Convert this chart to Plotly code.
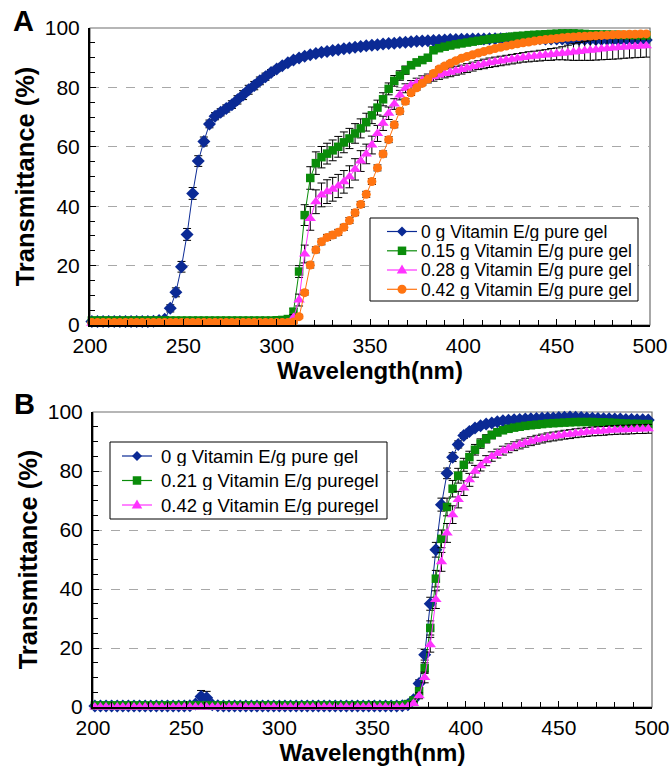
import plotly.graph_objects as go

# Wavelength grid (nm), one reading every 3 nm
wavelength = list(range(201, 499, 3))

# ---- Panel A: transmittance (%) ----
a_0g = [
    1.2, 1.2, 1.2, 1.2, 1.2, 1.2, 1.2, 1.2, 1.2, 1.2,
    1.2, 1.3, 1.5, 1.9, 5.6, 11.0, 19.6, 30.5, 44.3, 55.2,
    61.8, 67.7, 70.3, 71.6, 72.9, 74.2, 75.8, 77.4, 79.2, 80.6,
    82.2, 83.6, 85.0, 86.2, 87.3, 88.3, 89.2, 89.9, 90.5, 91.0,
    91.4, 91.8, 92.1, 92.4, 92.7, 93.0, 93.3, 93.5, 93.8, 94.0,
    94.2, 94.4, 94.6, 94.8, 94.9, 95.1, 95.2, 95.4, 95.5, 95.6,
    95.7, 95.8, 95.9, 96.0, 96.1, 96.1, 96.2, 96.2, 96.3, 96.3,
    96.3, 96.4, 96.4, 96.4, 96.4, 96.4, 96.4, 96.4, 96.4, 96.4,
    96.4, 96.3, 96.3, 96.3, 96.3, 96.2, 96.2, 96.2, 96.2, 96.2,
    96.1, 96.1, 96.1, 96.1, 96.0, 96.0, 96.0, 96.0, 96.0, 96.0,
]
a_0g_err = [
    0.3, 0.3, 0.3, 0.3, 0.3, 0.3, 0.3, 0.3, 0.3, 0.3,
    0.3, 0.3, 0.4, 0.8, 1.2, 1.5, 1.8, 2.0, 2.0, 1.8,
    1.5, 1.3, 1.2, 1.2, 1.2, 1.3, 1.4, 1.5, 1.5, 1.4,
    1.3, 1.2, 1.0, 0.9, 0.8, 0.7, 0.6, 0.6, 0.6, 0.6,
    0.6, 0.6, 0.6, 0.6, 0.6, 0.6, 0.6, 0.6, 0.6, 0.6,
    0.6, 0.6, 0.6, 0.6, 0.6, 0.6, 0.6, 0.6, 0.6, 0.6,
    0.6, 0.6, 0.6, 0.6, 0.6, 0.6, 0.6, 0.6, 0.6, 0.6,
    0.6, 0.6, 0.6, 0.6, 0.6, 0.6, 0.6, 0.6, 0.6, 0.6,
    0.7, 0.7, 0.7, 0.7, 0.7, 0.8, 0.8, 0.8, 0.8, 0.8,
    0.9, 0.9, 0.9, 1.0, 1.0, 1.0, 1.0, 1.0, 1.0, 1.0,
]
a_015g = [
    1.5, 1.5, 1.5, 1.5, 1.5, 1.5, 1.5, 1.5, 1.5, 1.5,
    1.5, 1.5, 1.5, 1.5, 1.5, 1.5, 1.5, 1.5, 1.5, 1.5,
    1.5, 1.5, 1.5, 1.5, 1.5, 1.5, 1.5, 1.5, 1.5, 1.5,
    1.5, 1.5, 1.5, 1.6, 1.7, 2.0, 4.5, 18.0, 37.0, 49.5,
    54.5, 56.5, 57.7, 58.8, 60.0, 61.5, 62.8, 64.5, 66.2, 68.3,
    70.6, 73.2, 76.0, 79.5, 82.2, 84.0, 85.8, 87.5, 88.4, 89.2,
    90.0, 92.5, 93.2, 93.7, 94.1, 94.5, 94.8, 95.1, 95.4, 95.7,
    96.0, 96.3, 96.5, 96.7, 96.9, 97.1, 97.3, 97.4, 97.6, 97.7,
    97.8, 97.9, 98.0, 98.1, 98.2, 98.2, 98.2, 98.1, 98.0, 97.9,
    97.9, 97.8, 97.8, 97.7, 97.7, 97.6, 97.6, 97.6, 97.5, 97.5,
]
a_015g_err = [
    0.3, 0.3, 0.3, 0.3, 0.3, 0.3, 0.3, 0.3, 0.3, 0.3,
    0.3, 0.3, 0.3, 0.3, 0.3, 0.3, 0.3, 0.3, 0.3, 0.3,
    0.3, 0.3, 0.3, 0.3, 0.3, 0.3, 0.3, 0.3, 0.3, 0.3,
    0.3, 0.3, 0.3, 0.3, 0.3, 0.4, 1.0, 2.0, 3.5, 3.8,
    3.8, 3.6, 3.5, 3.5, 3.5, 3.5, 3.4, 3.3, 3.2, 3.0,
    2.8, 2.5, 2.2, 2.0, 1.8, 1.6, 1.4, 1.2, 1.1, 1.0,
    0.9, 0.8, 0.8, 0.8, 0.8, 0.8, 0.8, 0.8, 0.8, 0.8,
    0.7, 0.7, 0.7, 0.7, 0.7, 0.7, 0.7, 0.7, 0.7, 0.7,
    0.7, 0.7, 0.7, 0.7, 0.7, 0.7, 0.7, 0.7, 0.7, 0.7,
    0.7, 0.7, 0.7, 0.7, 0.7, 0.7, 0.7, 0.7, 0.7, 0.7,
]
a_028g = [
    0.6, 0.6, 0.6, 0.6, 0.6, 0.6, 0.6, 0.6, 0.6, 0.6,
    0.6, 0.6, 0.6, 0.6, 0.6, 0.6, 0.6, 0.6, 0.6, 0.6,
    0.6, 0.6, 0.6, 0.6, 0.6, 0.6, 0.6, 0.6, 0.6, 0.6,
    0.6, 0.6, 0.6, 0.6, 0.6, 0.7, 2.5, 8.4, 23.9, 35.9,
    41.5, 43.8, 44.9, 45.7, 46.8, 48.2, 49.9, 52.4, 55.2, 57.6,
    60.6, 64.5, 67.9, 71.3, 74.4, 77.4, 79.7, 80.8, 81.6, 82.4,
    83.0, 83.6, 84.2, 84.7, 85.1, 85.6, 86.0, 86.5, 87.0, 87.5,
    87.9, 88.3, 88.6, 88.9, 89.2, 89.5, 89.8, 90.1, 90.3, 90.5,
    90.7, 90.9, 91.1, 91.3, 91.5, 91.7, 91.9, 92.1, 92.3, 92.5,
    92.7, 92.9, 93.1, 93.3, 93.4, 93.6, 93.7, 93.8, 93.9, 94.0,
]
a_028g_err = [
    0.3, 0.3, 0.3, 0.3, 0.3, 0.3, 0.3, 0.3, 0.3, 0.3,
    0.3, 0.3, 0.3, 0.3, 0.3, 0.3, 0.3, 0.3, 0.3, 0.3,
    0.3, 0.3, 0.3, 0.3, 0.3, 0.3, 0.3, 0.3, 0.3, 0.3,
    0.3, 0.3, 0.3, 0.3, 0.3, 0.3, 1.0, 2.0, 3.0, 4.0,
    4.0, 4.0, 4.0, 4.0, 3.9, 3.8, 3.7, 3.6, 3.5, 3.3,
    3.0, 2.7, 2.4, 2.1, 1.8, 1.6, 1.5, 1.5, 1.5, 1.5,
    1.5, 1.5, 1.5, 1.5, 1.5, 1.5, 1.5, 1.5, 1.5, 1.5,
    1.6, 1.6, 1.6, 1.6, 1.6, 1.6, 1.6, 1.6, 1.7, 1.7,
    1.8, 1.8, 2.0, 2.0, 2.2, 2.5, 2.8, 3.0, 3.2, 3.4,
    3.5, 3.6, 3.7, 3.8, 3.8, 3.8, 3.8, 3.8, 3.8, 3.8,
]
a_042g = [
    0.8, 0.8, 0.8, 0.8, 0.8, 0.8, 0.8, 0.8, 0.8, 0.8,
    0.8, 0.8, 0.8, 0.8, 0.8, 0.8, 0.8, 0.8, 0.8, 0.8,
    0.8, 0.8, 0.8, 0.8, 0.8, 0.8, 0.8, 0.8, 0.8, 0.8,
    0.8, 0.8, 0.8, 0.8, 0.8, 0.8, 1.0, 2.8, 10.9, 20.2,
    25.3, 28.0, 29.5, 30.3, 31.2, 32.9, 35.2, 37.8, 40.6, 44.0,
    48.3, 52.9, 57.6, 62.4, 67.4, 72.0, 75.3, 78.2, 79.9, 81.4,
    82.8, 84.7, 86.2, 87.2, 88.1, 89.0, 89.8, 90.4, 91.0, 91.6,
    92.1, 92.6, 93.1, 93.5, 93.9, 94.3, 94.7, 95.0, 95.3, 95.6,
    95.9, 96.1, 96.3, 96.5, 96.7, 96.9, 97.0, 97.1, 97.2, 97.3,
    97.4, 97.5, 97.6, 97.7, 97.8, 97.8, 97.9, 97.9, 98.0, 98.0,
]
a_042g_err = [
    0.3, 0.3, 0.3, 0.3, 0.3, 0.3, 0.3, 0.3, 0.3, 0.3,
    0.3, 0.3, 0.3, 0.3, 0.3, 0.3, 0.3, 0.3, 0.3, 0.3,
    0.3, 0.3, 0.3, 0.3, 0.3, 0.3, 0.3, 0.3, 0.3, 0.3,
    0.3, 0.3, 0.3, 0.3, 0.3, 0.3, 0.4, 0.6, 0.8, 1.0,
    1.0, 1.0, 1.0, 1.0, 1.0, 1.0, 1.0, 1.0, 1.0, 1.0,
    1.0, 1.0, 1.0, 1.0, 1.0, 1.0, 0.9, 0.9, 0.8, 0.8,
    0.8, 0.8, 0.7, 0.7, 0.7, 0.7, 0.6, 0.6, 0.6, 0.6,
    0.6, 0.6, 0.6, 0.6, 0.6, 0.6, 0.6, 0.6, 0.6, 0.6,
    0.6, 0.6, 0.6, 0.6, 0.6, 0.6, 0.6, 0.6, 0.6, 0.6,
    0.6, 0.6, 0.6, 0.6, 0.6, 0.6, 0.6, 0.6, 0.6, 0.6,
]

# ---- Panel B: transmittance (%) ----
b_0g = [
    0.3, 0.3, 0.3, 0.3, 0.3, 0.3, 0.3, 0.3, 0.3, 0.3,
    0.3, 0.3, 0.3, 0.3, 0.3, 0.3, 0.3, 0.4, 1.0, 3.6,
    3.1, 0.8, 0.4, 0.3, 0.3, 0.3, 0.3, 0.3, 0.3, 0.3,
    0.3, 0.3, 0.3, 0.3, 0.3, 0.3, 0.3, 0.3, 0.3, 0.3,
    0.3, 0.3, 0.3, 0.3, 0.3, 0.3, 0.3, 0.3, 0.3, 0.3,
    0.3, 0.3, 0.3, 0.3, 0.3, 0.4, 0.8, 2.5, 8.0, 17.7,
    35.0, 53.3, 68.6, 79.2, 84.7, 89.0, 92.0, 93.4, 94.6, 95.3,
    95.9, 96.3, 96.7, 97.0, 97.2, 97.4, 97.5, 97.6, 97.7, 97.8,
    97.9, 98.0, 98.0, 98.1, 98.2, 98.3, 98.2, 98.1, 98.0, 97.9,
    97.8, 97.7, 97.7, 97.6, 97.6, 97.5, 97.5, 97.4, 97.4, 97.3,
]
b_0g_err = [
    0.2, 0.2, 0.2, 0.2, 0.2, 0.2, 0.2, 0.2, 0.2, 0.2,
    0.2, 0.2, 0.2, 0.2, 0.2, 0.2, 0.2, 0.2, 0.5, 2.0,
    2.2, 0.5, 0.2, 0.2, 0.2, 0.2, 0.2, 0.2, 0.2, 0.2,
    0.2, 0.2, 0.2, 0.2, 0.2, 0.2, 0.2, 0.2, 0.2, 0.2,
    0.2, 0.2, 0.2, 0.2, 0.2, 0.2, 0.2, 0.2, 0.2, 0.2,
    0.2, 0.2, 0.2, 0.2, 0.2, 0.2, 0.4, 0.8, 1.2, 1.8,
    2.2, 2.5, 2.2, 1.8, 1.5, 1.2, 1.0, 0.8, 0.7, 0.6,
    0.6, 0.6, 0.6, 0.6, 0.6, 0.6, 0.6, 0.6, 0.6, 0.6,
    0.6, 0.6, 0.6, 0.6, 0.6, 0.6, 0.6, 0.6, 0.6, 0.6,
    0.6, 0.6, 0.6, 0.6, 0.6, 0.6, 0.6, 0.6, 0.6, 0.6,
]
b_021g = [
    0.5, 0.5, 0.5, 0.5, 0.5, 0.5, 0.5, 0.5, 0.5, 0.5,
    0.5, 0.5, 0.5, 0.5, 0.5, 0.5, 0.5, 0.5, 0.5, 0.5,
    0.5, 0.5, 0.5, 0.5, 0.5, 0.5, 0.5, 0.5, 0.5, 0.5,
    0.5, 0.5, 0.5, 0.5, 0.5, 0.5, 0.5, 0.5, 0.5, 0.5,
    0.5, 0.5, 0.5, 0.5, 0.5, 0.5, 0.5, 0.5, 0.5, 0.5,
    0.5, 0.5, 0.5, 0.5, 0.5, 0.6, 1.0, 2.2, 5.3, 13.2,
    26.8, 43.5, 57.0, 67.8, 74.0, 78.4, 82.1, 84.7, 87.2, 89.3,
    90.9, 92.2, 93.1, 93.8, 94.3, 94.7, 95.0, 95.3, 95.5, 95.7,
    95.9, 96.1, 96.2, 96.3, 96.4, 96.5, 96.6, 96.6, 96.6, 96.6,
    96.5, 96.5, 96.4, 96.3, 96.2, 96.1, 96.0, 96.0, 95.9, 95.9,
]
b_021g_err = [
    0.2, 0.2, 0.2, 0.2, 0.2, 0.2, 0.2, 0.2, 0.2, 0.2,
    0.2, 0.2, 0.2, 0.2, 0.2, 0.2, 0.2, 0.2, 0.2, 0.2,
    0.2, 0.2, 0.2, 0.2, 0.2, 0.2, 0.2, 0.2, 0.2, 0.2,
    0.2, 0.2, 0.2, 0.2, 0.2, 0.2, 0.2, 0.2, 0.2, 0.2,
    0.2, 0.2, 0.2, 0.2, 0.2, 0.2, 0.2, 0.2, 0.2, 0.2,
    0.2, 0.2, 0.2, 0.2, 0.2, 0.2, 0.4, 0.8, 1.2, 1.8,
    2.4, 2.8, 3.0, 3.0, 2.8, 2.5, 2.2, 2.0, 1.8, 1.6,
    1.4, 1.3, 1.2, 1.1, 1.0, 1.0, 1.0, 1.0, 1.0, 1.0,
    1.0, 1.0, 1.0, 1.0, 1.0, 1.0, 1.0, 1.0, 1.0, 1.0,
    1.0, 1.0, 1.0, 1.0, 1.0, 1.0, 1.0, 1.0, 1.0, 1.0,
]
b_042g = [
    0.0, 0.0, 0.0, 0.0, 0.0, 0.0, 0.0, 0.0, 0.0, 0.0,
    0.0, 0.0, 0.0, 0.0, 0.0, 0.0, 0.0, 0.0, 0.0, 0.0,
    0.0, 0.0, 0.0, 0.0, 0.0, 0.0, 0.0, 0.0, 0.0, 0.0,
    0.0, 0.0, 0.0, 0.0, 0.0, 0.0, 0.0, 0.0, 0.0, 0.0,
    0.0, 0.0, 0.0, 0.0, 0.0, 0.0, 0.0, 0.0, 0.0, 0.0,
    0.0, 0.0, 0.0, 0.0, 0.0, 0.0, 0.2, 1.2, 3.8, 10.0,
    21.1, 36.4, 49.2, 59.0, 65.2, 70.3, 74.2, 77.0, 79.9, 81.8,
    83.5, 84.9, 85.9, 86.9, 87.7, 88.4, 89.0, 89.6, 90.1, 90.6,
    91.0, 91.4, 91.7, 92.0, 92.3, 92.5, 92.8, 93.0, 93.2, 93.4,
    93.5, 93.6, 93.8, 93.9, 94.0, 94.0, 94.1, 94.2, 94.2, 94.3,
]
b_042g_err = [
    0.0, 0.0, 0.0, 0.0, 0.0, 0.0, 0.0, 0.0, 0.0, 0.0,
    0.0, 0.0, 0.0, 0.0, 0.0, 0.0, 0.0, 0.0, 0.0, 0.0,
    0.0, 0.0, 0.0, 0.0, 0.0, 0.0, 0.0, 0.0, 0.0, 0.0,
    0.0, 0.0, 0.0, 0.0, 0.0, 0.0, 0.0, 0.0, 0.0, 0.0,
    0.0, 0.0, 0.0, 0.0, 0.0, 0.0, 0.0, 0.0, 0.0, 0.0,
    0.0, 0.0, 0.0, 0.0, 0.0, 0.0, 0.2, 0.6, 1.0, 1.8,
    2.5, 3.0, 3.2, 3.2, 3.0, 2.8, 2.5, 2.2, 2.0, 1.8,
    1.7, 1.6, 1.5, 1.5, 1.5, 1.5, 1.5, 1.5, 1.5, 1.5,
    1.5, 1.5, 1.5, 1.5, 1.5, 1.5, 1.5, 1.5, 1.5, 1.5,
    1.5, 1.5, 1.5, 1.5, 1.5, 1.5, 1.5, 1.5, 1.5, 1.5,
]

NAVY, GREEN, MAGENTA, ORANGE = "#0b2a95", "#0a8c0a", "#ff33ff", "#ff7411"

series_a = [
    ("0 g Vitamin E/g pure gel", a_0g, a_0g_err, NAVY, "diamond", 10),
    ("0.15 g Vitamin E/g pure gel", a_015g, a_015g_err, GREEN, "square", 8.5),
    ("0.28 g Vitamin E/g pure gel", a_028g, a_028g_err, MAGENTA, "triangle-up", 10),
    ("0.42 g Vitamin E/g pure gel", a_042g, a_042g_err, ORANGE, "circle", 9),
]
series_b = [
    ("0 g Vitamin E/g pure gel", b_0g, b_0g_err, NAVY, "diamond", 10),
    ("0.21 g Vitamin E/g puregel", b_021g, b_021g_err, GREEN, "square", 8.5),
    ("0.42 g Vitamin E/g puregel", b_042g, b_042g_err, MAGENTA, "triangle-up", 10),
]

W, H = 670, 774
FONT = "Liberation Sans, Arial, sans-serif"


def fx(p):
    return p / W


def fy(p):
    return 1 - p / H


fig = go.Figure()


def add_series(series, xa, ya):
    for name, vals, err, color, symbol, size in series:
        fig.add_trace(go.Scatter(
            x=wavelength, y=vals, name=name, xaxis=xa, yaxis=ya,
            mode="lines+markers", showlegend=False, cliponaxis=False,
            line=dict(color=color, width=1),
            marker=dict(symbol=symbol, size=size, color=color, line=dict(width=0)),
            error_y=dict(type="data", array=err, visible=True,
                         color="black", thickness=1, width=4),
        ))


add_series(series_a, "x", "y")
add_series(series_b, "x2", "y2")

axis_font = dict(family=FONT, size=21, color="black")


def xaxis_cfg(domain, anchor):
    return dict(
        domain=domain, anchor=anchor, range=[200, 500], dtick=50, tick0=200,
        automargin=False,
        ticks="inside", ticklen=6, tickwidth=1, tickcolor="black",
        minor=dict(dtick=10, ticks="inside", ticklen=5, tickcolor="black", showgrid=False),
        showgrid=False, zeroline=False, showline=True, linecolor="black", linewidth=2,
        tickfont=axis_font, ticklabelstandoff=1,
        title=dict(text="<b>Wavelength(nm)</b>",
                   font=dict(family=FONT, size=24, color="black"), standoff=0),
    )


def yaxis_cfg(domain, anchor):
    return dict(
        domain=domain, anchor=anchor, range=[0, 100], dtick=20, tick0=0,
        automargin=False,
        ticks="inside", ticklen=6, tickwidth=1, tickcolor="black",
        minor=dict(dtick=5, ticks="inside", ticklen=5, tickcolor="black", showgrid=False),
        showgrid=True, gridcolor="#a8a8a8", griddash="dash", gridwidth=1,
        zeroline=False, showline=True, linecolor="black", linewidth=2,
        tickfont=axis_font, ticklabelstandoff=4,
        title=dict(text="<b>Transmittance (%)</b>",
                   font=dict(family=FONT, size=25.5, color="black"), standoff=3),
    )


fig.update_layout(
    width=W, height=H, margin=dict(l=0, r=0, t=0, b=0, pad=0, autoexpand=False),
    paper_bgcolor="white", plot_bgcolor="white",
    font=dict(family=FONT, color="black"),
    xaxis=xaxis_cfg([fx(90), fx(650)], "y"),
    yaxis=yaxis_cfg([fy(325), fy(28)], "x"),
    xaxis2=xaxis_cfg([fx(93), fx(652)], "y2"),
    yaxis2=yaxis_cfg([fy(707), fy(412)], "x2"),
    showlegend=False,
)

shapes = []
annotations = []

# grey frame on top and right of each plot area
for xr, yr in (("x domain", "y domain"), ("x2 domain", "y2 domain")):
    shapes.append(dict(type="rect", xref=xr, yref=yr, x0=0, x1=1, y0=0, y1=1,
                       line=dict(color="#6e6e6e", width=1.2), layer="below"))

# panel letters
for letter, x, y in (("A", 23, 21), ("B", 25, 404)):
    annotations.append(dict(text=f"<b>{letter}</b>", x=fx(x), y=fy(y), xref="paper", yref="paper",
                            showarrow=False, xanchor="center", yanchor="middle",
                            font=dict(family=FONT, size=29, color="black")))


def marker_path(symbol, cx, cy, r):
    pts = []
    if symbol == "diamond":
        pts = [(cx, cy - r), (cx + r, cy), (cx, cy + r), (cx - r, cy)]
    elif symbol == "square":
        pts = [(cx - r, cy - r), (cx + r, cy - r), (cx + r, cy + r), (cx - r, cy + r)]
    elif symbol == "triangle-up":
        pts = [(cx, cy - r * 1.1), (cx + r * 1.05, cy + r * 0.7), (cx - r * 1.05, cy + r * 0.7)]
    if symbol == "circle":
        return dict(type="circle", xref="paper", yref="paper",
                    x0=fx(cx - r), x1=fx(cx + r), y0=fy(cy + r), y1=fy(cy - r))
    path = "M " + " L ".join(f"{fx(px):.5f},{fy(py):.5f}" for px, py in pts) + " Z"
    return dict(type="path", xref="paper", yref="paper", path=path)


def draw_legend(series, box, rows, line_x, text_x, size):
    x0, y0, x1, y1 = box
    shapes.append(dict(type="rect", xref="paper", yref="paper",
                       x0=fx(x0), x1=fx(x1), y0=fy(y1), y1=fy(y0),
                       line=dict(color="black", width=1), fillcolor="white", layer="above"))
    for (name, _, _, color, symbol, msize), ry in zip(series, rows):
        shapes.append(dict(type="line", xref="paper", yref="paper",
                           x0=fx(line_x[0]), x1=fx(line_x[1]), y0=fy(ry), y1=fy(ry),
                           line=dict(color=color, width=1.2)))
        m = marker_path(symbol, (line_x[0] + line_x[1]) / 2, ry, msize / 2)
        m.update(fillcolor=color, line=dict(width=0), layer="above")
        shapes.append(m)
        annotations.append(dict(text=name, x=fx(text_x), y=fy(ry), xref="paper", yref="paper",
                                showarrow=False, xanchor="left", yanchor="middle",
                                height=19, valign="middle", borderpad=0,
                                font=dict(family=FONT, size=size, color="black")))


draw_legend(series_a, (370, 218, 638, 301), [231.5, 250.8, 270, 289.3], (387, 417), 420, 17.5)
draw_legend(series_b, (110, 442, 387, 519), [456, 480.5, 505], (122, 152), 160, 18.5)

fig.update_layout(shapes=shapes, annotations=annotations)

fig.write_html("out.html")
